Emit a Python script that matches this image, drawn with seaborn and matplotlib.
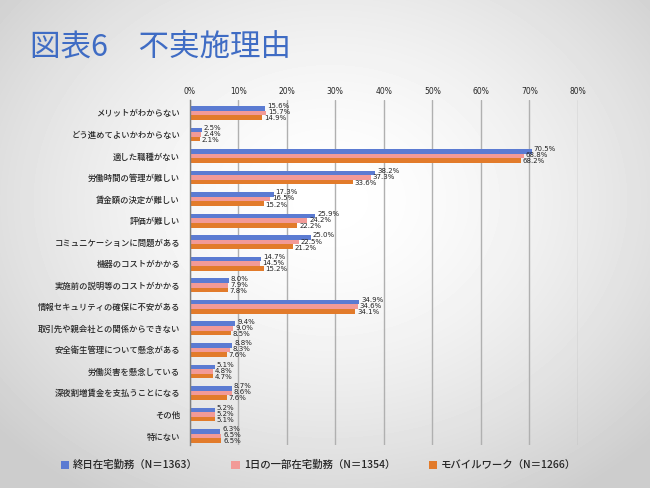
"""Reasons for not adopting telework - grouped horizontal bar chart."""

import numpy as np
import pandas as pd
import matplotlib
matplotlib.use("Agg")
import matplotlib.pyplot as plt
import seaborn as sns
from matplotlib.patches import Patch

categories = [
    "メリットがわからない",
    "どう進めてよいかわからない",
    "適した職種がない",
    "労働時間の管理が難しい",
    "賃金額の決定が難しい",
    "評価が難しい",
    "コミュニケーションに問題がある",
    "機器のコストがかかる",
    "実施前の説明等のコストがかかる",
    "情報セキュリティの確保に不安がある",
    "取引先や親会社との関係からできない",
    "安全衛生管理について懸念がある",
    "労働災害を懸念している",
    "深夜割増賃金を支払うことになる",
    "その他",
    "特にない",
]
series = [
    "終日在宅勤務（N＝1363）",
    "1日の一部在宅勤務（N＝1354）",
    "モバイルワーク（N＝1266）",
]
full_day = [15.6, 2.5, 70.5, 38.2, 17.3, 25.9, 25.0, 14.7, 8.0, 34.9, 9.4, 8.8, 5.1, 8.7, 5.2, 6.3]
part_day = [15.7, 2.4, 68.8, 37.3, 16.5, 24.2, 22.5, 14.5, 7.9, 34.6, 9.0, 8.3, 4.8, 8.6, 5.2, 6.5]
mobile = [14.9, 2.1, 68.2, 33.6, 15.2, 22.2, 21.2, 15.2, 7.8, 34.1, 8.5, 7.6, 4.7, 7.6, 5.1, 6.5]
x_ticks = [0, 10, 20, 30, 40, 50, 60, 70, 80]

colors = ["#5b7bd2", "#f29a97", "#e27b2b"]

df = pd.DataFrame({
    "category": categories * 3,
    "series": np.repeat(series, len(categories)),
    "value": full_day + part_day + mobile,
})

sns.set_theme(style="white")
plt.rcParams["font.family"] = ["Noto Sans CJK JP", "DejaVu Sans"]

fig = plt.figure(figsize=(6.5, 4.88), dpi=100)

# soft radial page background
bg = fig.add_axes([0, 0, 1, 1], zorder=-10)
yy, xx = np.mgrid[0:488, 0:650]
r = np.sqrt(((xx - 330) / 400.0) ** 2 + ((yy - 200) / 320.0) ** 2)
bg.imshow(1 - 0.17 * np.clip(r, 0, 1.1) ** 1.6, cmap="gray", vmin=0, vmax=1,
          aspect="auto", extent=[0, 1, 0, 1])
bg.axis("off")

ax = fig.add_axes([0.292, 0.088, 0.597, 0.707])
ax.patch.set_alpha(0)
sns.barplot(data=df, y="category", x="value", hue="series", orient="h",
            palette=colors, width=0.64, ax=ax, legend=False,
            edgecolor="none", saturation=1)

ax.set_xlim(0, 80)
ax.set_ylim(len(categories) - 0.58, -0.6)
ax.set_xticks(x_ticks)
ax.set_xticklabels([f"{t}%" for t in x_ticks], fontsize=5.5, family="DejaVu Sans")
ax.xaxis.tick_top()
ax.tick_params(axis="x", length=0, pad=3)
ax.tick_params(axis="y", length=0, pad=7, labelsize=6)
for lbl in ax.get_yticklabels():
    lbl.set_fontweight("medium")
ax.set_xlabel("")
ax.set_ylabel("")
ax.grid(axis="x", color="#b0b0b0", linewidth=1)
ax.set_axisbelow(True)
for side in ["top", "bottom", "right"]:
    ax.spines[side].set_visible(False)
ax.spines["left"].set_color("#7f7f7f")
ax.spines["left"].set_linewidth(1)

# value labels, stacked to the right of each bar group
for k, cont in enumerate(ax.containers):
    for bar in cont:
        w = bar.get_width()
        yc = bar.get_y() + bar.get_height() / 2
        ax.text(w + 0.4, yc + (k - 1) * 0.07 - 0.03, f"{w:.1f}%",
                fontsize=5, va="center", ha="left", family="DejaVu Sans",
                color="#222222")

fig.text(0.046, 0.903, "図表6　不実施理由", fontsize=22, color="#3f6cc4",
         va="center", ha="left")

handles = [Patch(facecolor=c, edgecolor="none") for c in colors]
fig.legend(handles, series, loc="center", bbox_to_anchor=(0.49, 0.047), ncol=3,
           frameon=False, fontsize=7.5, handlelength=0.8, handleheight=0.8,
           handletextpad=0.4, columnspacing=3.2,
           prop={"size": 7.5, "weight": "medium"})

fig.savefig("out.png", dpi=100)
